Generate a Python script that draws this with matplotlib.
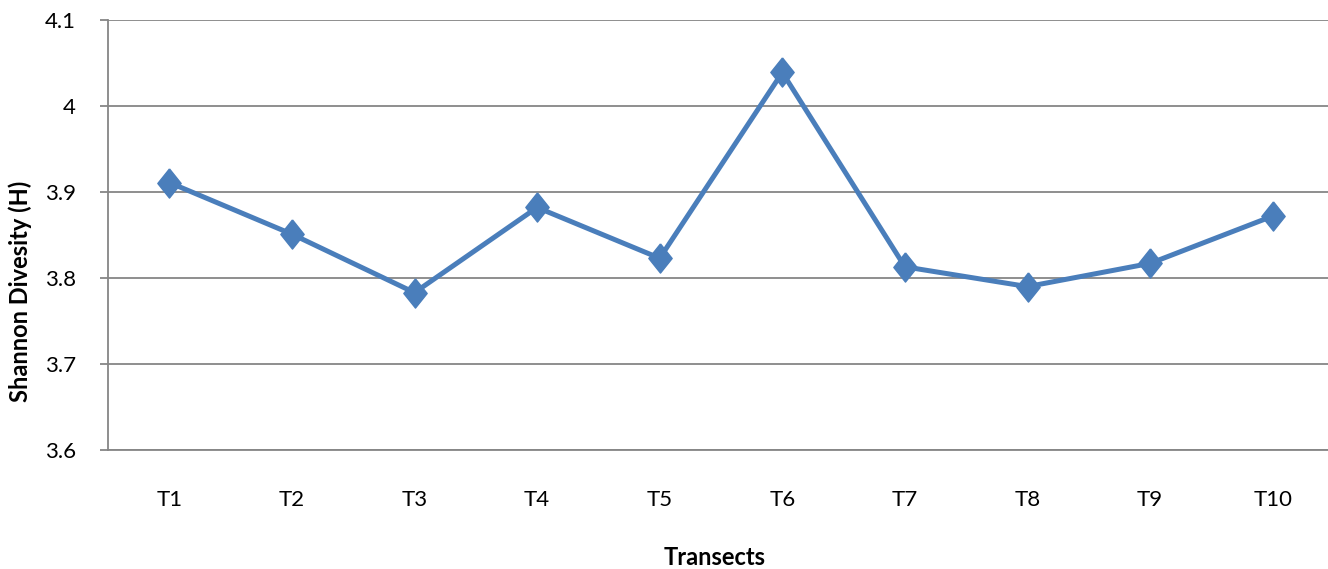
import matplotlib.pyplot as plt

# Shannon diversity per transect
transects = ["T1", "T2", "T3", "T4", "T5", "T6", "T7", "T8", "T9", "T10"]
shannon_h = [3.911, 3.851, 3.783, 3.882, 3.823, 4.039, 3.813, 3.790, 3.817, 3.872]
y_ticks = [3.6, 3.7, 3.8, 3.9, 4.0, 4.1]
y_labels = ["3.6", "3.7", "3.8", "3.9", "4", "4.1"]

plt.rcParams['font.family'] = ['Lato', 'DejaVu Sans']

fig = plt.figure(figsize=(13.28, 5.69), dpi=100)
ax = fig.add_axes([108 / 1328, 119 / 569, 1226 / 1328, 430 / 569])

grid_col = "#868686"
line_col = "#4A7EBB"

# tall diamond marker like the Excel one
diamond = [(0, 1), (0.8, 0), (0, -1), (-0.8, 0), (0, 1)]

x = range(len(transects))
ax.plot(x, shannon_h, color=line_col, linewidth=3.6, marker=diamond,
        markersize=21, markerfacecolor=line_col, markeredgecolor=line_col,
        zorder=3, clip_on=False)

ax.set_xlim(-0.5, len(transects) - 0.5)
ax.set_ylim(3.6, 4.1)
ax.set_yticks(y_ticks)
ax.set_yticklabels(y_labels)
ax.set_xticks(list(x))
ax.set_xticklabels(transects)

ax.grid(axis="y", color=grid_col, linewidth=1.3)
ax.set_axisbelow(True)

for side in ["top", "right"]:
    ax.spines[side].set_visible(False)
ax.spines["left"].set_color(grid_col)
ax.spines["bottom"].set_color(grid_col)
ax.spines["left"].set_linewidth(1.3)
ax.spines["bottom"].set_linewidth(1.3)

ax.tick_params(axis="y", length=6, width=1.3, color=grid_col, pad=17,
               labelsize=16, labelcolor="black")
ax.tick_params(axis="x", length=0, pad=29, labelsize=16, labelcolor="black")

ax.set_xlabel("Transects", fontsize=17, fontweight="bold")
ax.set_ylabel("Shannon Divesity (H)", fontsize=17, fontweight="bold")
ax.xaxis.label.set_va("center")
ax.yaxis.label.set_va("center")
ax.xaxis.set_label_coords(0.495, -0.251)
ax.yaxis.set_label_coords(-0.0718, 0.37)

fig.savefig("out.png", dpi=100)
